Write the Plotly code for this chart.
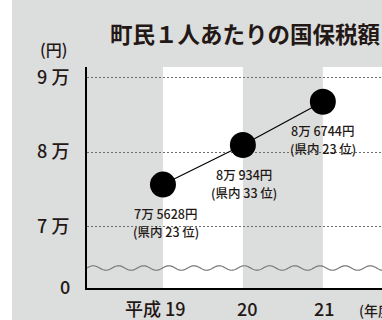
import plotly.graph_objects as go
import math

# ---- data ----
years = [19, 20, 21]
year_labels = ["平成 19", "20", "21"]
tax_values = [75628, 80934, 86744]
value_labels = ["7万 5628円", "8万 934円", "8万 6744円"]
rank_labels = ["(県内 23 位)", "(県内 33 位)", "(県内 23 位)"]
ytick_vals = [70000, 80000, 90000]
ytick_text = ["7 万", "8 万", "9 万"]

GRAY = "#dcdddd"
INK = "#231815"
FONT = "Noto Sans CJK JP"

W, H = 382, 320
L, R, T, B = 87, 0, 67, 32
PW, PH = W - L - R, H - T - B
xr = [18.05, 21.74]
yr = [61745, 91409]

def px_x(p):
    return (p - L) / PW

def px_y(p):
    return (H - B - p) / PH

fig = go.Figure()

fig.add_trace(go.Scatter(
    x=years, y=tax_values, mode="lines+markers",
    line=dict(color="black", width=1.2),
    marker=dict(color="black", size=26),
    cliponaxis=False, hoverinfo="skip", showlegend=False,
))

shapes = []
# white strip at far left of picture
shapes.append(dict(type="rect", xref="paper", yref="paper",
                   x0=px_x(0), x1=px_x(12), y0=px_y(H), y1=px_y(0),
                   fillcolor="white", line_width=0, layer="below"))
# alternating white column bands
for x0, x1 in [(19, 20), (21, xr[1] + 0.5)]:
    shapes.append(dict(type="rect", xref="x", yref="paper",
                       x0=x0, x1=x1, y0=0, y1=1,
                       fillcolor="white", line_width=0, layer="below"))
# wavy axis-break line (decoration)
wave_y = 64430
amp = 300
period = 0.315
n = 400
pts = []
for i in range(n + 1):
    xx = xr[0] + (xr[1] - xr[0]) * i / n
    yy = wave_y + amp * math.sin(2 * math.pi * (xx - xr[0]) / period)
    pts.append(f"{xx:.4f},{yy:.1f}")
shapes.append(dict(type="path", xref="x", yref="y",
                   path="M" + " L".join(pts),
                   line=dict(color="#7a7a7a", width=1.2), layer="above"))
fig.update_layout(shapes=shapes)

lab_font = dict(family=FONT, size=12.5, color=INK, weight=500)
ann = []
for x, v, t1, t2, dx in zip(years, tax_values, value_labels, rank_labels, [3, 1, 0]):
    ann.append(dict(x=x, y=v, xref="x", yref="y", text=t1,
                    showarrow=False, xshift=dx, yshift=-29, yanchor="middle",
                    font=lab_font))
    ann.append(dict(x=x, y=v, xref="x", yref="y", text=t2,
                    showarrow=False, xshift=dx, yshift=-47, yanchor="middle",
                    font=lab_font))
# x category labels
for x, t, dx in zip(years, year_labels, [-7, 5, 2]):
    ann.append(dict(x=x, y=px_y(308), xref="x", yref="paper", text=t,
                    showarrow=False, xshift=dx, yanchor="middle",
                    font=dict(family=FONT, size=18, color=INK, weight=500)))
ann.append(dict(x=px_x(357), y=px_y(310), xref="paper", yref="paper",
                text="(年度)", showarrow=False, xanchor="left", yanchor="middle",
                font=dict(family=FONT, size=14, color=INK, weight=500)))
ann.append(dict(x=px_x(72), y=px_y(286), xref="paper", yref="paper",
                text="0", showarrow=False, xanchor="right", yanchor="middle",
                font=dict(family=FONT, size=18, color=INK, weight=500)))
ann.append(dict(x=px_x(53), y=px_y(49), xref="paper", yref="paper",
                text="(円)", showarrow=False, xanchor="center", yanchor="middle",
                font=dict(family=FONT, size=16, color=INK, weight=500)))
ann.append(dict(x=px_x(108), y=px_y(33), xref="paper", yref="paper",
                text="<b>町民１人あたりの国保税額</b>", showarrow=False,
                xanchor="left", yanchor="middle",
                font=dict(family=FONT, size=22.5, color=INK)))
fig.update_layout(annotations=ann)

fig.update_layout(
    width=W, height=H,
    margin=dict(l=L, r=R, t=T, b=B, pad=0),
    paper_bgcolor=GRAY, plot_bgcolor=GRAY,
    showlegend=False,
    xaxis=dict(range=xr, showgrid=False, zeroline=False, showticklabels=False,
               showline=True, linecolor="black", linewidth=2, ticks=""),
    yaxis=dict(range=yr, tickvals=ytick_vals, ticktext=ytick_text,
               showgrid=True, gridcolor="#6e6e6e", gridwidth=1, griddash="2px,2px",
               zeroline=False, showline=True, linecolor="black", linewidth=2,
               ticks="", ticklabelstandoff=12,
               tickfont=dict(family=FONT, size=18, color=INK, weight=500)),
)

fig.write_html("out.html")
